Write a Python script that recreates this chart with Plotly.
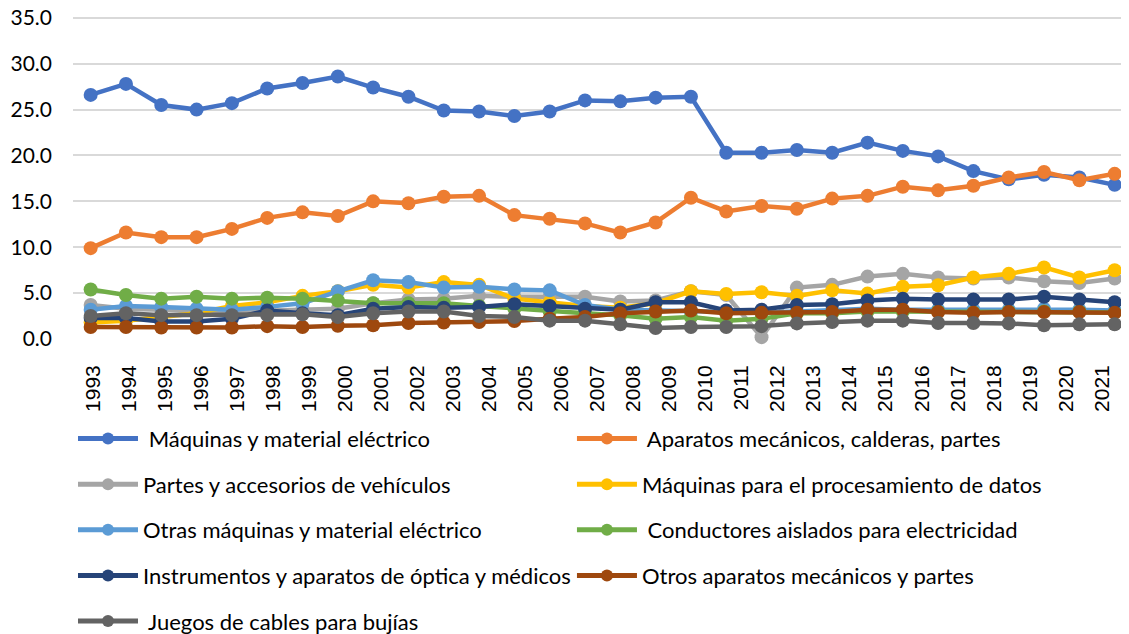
import numpy as np
import plotly.graph_objects as go

# ---- data ----
years = list(range(1993, 2023))            # 30 plotted points
year_labels = [str(y) for y in range(1993, 2022)]   # 29 axis labels shown

maquinas_material = [26.6, 27.8, 25.5, 25.0, 25.7, 27.3, 27.9, 28.6, 27.4, 26.4,
                     24.9, 24.8, 24.3, 24.8, 26.0, 25.9, 26.3, 26.4, 20.3, 20.3,
                     20.6, 20.3, 21.4, 20.5, 19.9, 18.3, 17.4, 17.9, 17.6, 16.8]
aparatos_mecanicos = [9.9, 11.6, 11.1, 11.1, 12.0, 13.2, 13.8, 13.4, 15.0, 14.8,
                      15.5, 15.6, 13.5, 13.1, 12.6, 11.6, 12.7, 15.4, 13.9, 14.5,
                      14.2, 15.3, 15.6, 16.6, 16.2, 16.7, 17.6, 18.2, 17.3, 18.0]
partes_vehiculos = [3.7, 3.3, 3.2, 3.0, 3.0, 3.1, 3.3, 3.3, 3.9, 4.3,
                    4.4, 4.7, 4.6, 4.6, 4.6, 4.1, 4.2, 5.2, 4.8, 0.2,
                    5.6, 5.9, 6.8, 7.1, 6.7, 6.6, 6.7, 6.3, 6.1, 6.6]
procesamiento_datos = [1.8, 2.0, 2.4, 2.8, 3.6, 4.0, 4.7, 5.2, 5.9, 5.6,
                       6.2, 5.9, 4.4, 4.0, 3.6, 3.4, 3.9, 5.2, 4.9, 5.1,
                       4.7, 5.3, 4.95, 5.7, 5.85, 6.7, 7.1, 7.8, 6.7, 7.5]
otras_maquinas = [3.2, 3.6, 3.5, 3.3, 3.2, 3.5, 3.9, 5.2, 6.4, 6.2,
                  5.6, 5.7, 5.4, 5.3, 3.7, 3.2, 3.1, 3.0, 2.9, 2.9,
                  3.0, 3.1, 3.3, 3.2, 3.2, 3.2, 3.2, 3.3, 3.2, 3.1]
conductores = [5.4, 4.8, 4.4, 4.6, 4.4, 4.5, 4.4, 4.2, 3.9, 3.9,
               3.9, 3.6, 3.3, 3.0, 2.8, 2.6, 2.2, 2.4, 2.0, 2.2,
               2.8, 2.8, 3.0, 3.0, 3.0, 2.9, 3.0, 3.0, 3.0, 2.9]
instrumentos = [2.3, 2.3, 1.9, 1.9, 2.2, 3.1, 2.8, 2.6, 3.3, 3.5,
                3.4, 3.5, 3.8, 3.6, 3.3, 3.2, 4.0, 4.0, 3.1, 3.2,
                3.7, 3.8, 4.2, 4.4, 4.3, 4.3, 4.3, 4.6, 4.3, 4.0]
otros_aparatos = [1.3, 1.3, 1.25, 1.25, 1.25, 1.4, 1.3, 1.45, 1.5, 1.75,
                  1.8, 1.85, 1.95, 2.2, 2.4, 2.8, 3.0, 3.1, 2.8, 2.85,
                  2.85, 2.95, 3.2, 3.2, 2.95, 2.85, 2.95, 2.95, 2.95, 2.85]
juegos_cables = [2.5, 2.8, 2.6, 2.6, 2.6, 2.6, 2.7, 2.4, 2.8, 3.0,
                 3.0, 2.5, 2.4, 2.0, 2.0, 1.6, 1.2, 1.3, 1.3, 1.4,
                 1.7, 1.85, 2.0, 2.0, 1.75, 1.75, 1.7, 1.5, 1.6, 1.6]

NB = "\u00a0"
series = [
    (NB + "Máquinas y material eléctrico", maquinas_material, "#4472C4", "legend"),
    (NB + "Aparatos mecánicos, calderas, partes", aparatos_mecanicos, "#ED7D31", "legend2"),
    ("Partes y accesorios de vehículos", partes_vehiculos, "#A5A5A5", "legend"),
    ("Máquinas para el procesamiento de datos", procesamiento_datos, "#FFC000", "legend2"),
    ("Otras máquinas y material eléctrico", otras_maquinas, "#5B9BD5", "legend"),
    (NB + "Conductores aislados para electricidad", conductores, "#70AD47", "legend2"),
    ("Instrumentos y aparatos de óptica y médicos", instrumentos, "#264478", "legend"),
    ("Otros aparatos mecánicos y partes", otros_aparatos, "#9E480E", "legend2"),
    (NB + "Juegos de cables para bujías", juegos_cables, "#636363", "legend"),
]

fig = go.Figure()
for i, (name, vals, color, leg) in enumerate(series):
    fig.add_trace(go.Scatter(
        x=years, y=vals, name=name, mode="lines+markers",
        line=dict(color=color, width=4.5),
        marker=dict(color=color, size=14),
        legend=leg, legendgroup=f"g{i}",
        cliponaxis=False,
    ))

FONT = "Lato"
leg_common = dict(yanchor="top", xanchor="left",
                  font=dict(family=FONT, size=22, color="#000000"),
                  tracegroupgap=14, itemsizing="constant", itemwidth=60,
                  bgcolor="rgba(0,0,0,0)")
# The page shows the figure with an 8px body margin, so the figure is
# sized to fit the 1129x634 window and margins compensate for the offset.
fig.update_layout(
    width=1121, height=626,
    margin=dict(l=65, r=0, t=8, b=295, autoexpand=False),
    paper_bgcolor="white", plot_bgcolor="white",
    showlegend=True,
    legend=dict(x=0.0, y=-0.244, **leg_common),
    legend2=dict(x=0.4725, y=-0.244, **leg_common),
)
fig.update_xaxes(
    range=[1992.5, 1992.5 + 1056 / 35.31],
    tickmode="array",
    tickvals=np.linspace(1993.06, 2021.64, len(year_labels)),
    ticktext=year_labels,
    tickangle=-90,
    tickfont=dict(family="Liberation Sans", size=21, color="#000000"),
    showgrid=False, zeroline=False, showline=False, automargin=False,
    ticks="", ticklabelstandoff=21, ticklabeloverflow="allow",
)
fig.update_yaxes(
    range=[0, 35.2], tickmode="array",
    tickvals=[0, 5, 10, 15, 20, 25, 30, 35],
    tickformat=".1f",
    tickfont=dict(family=FONT, size=21, color="#000000"),
    showgrid=True, gridcolor="#D9D9D9", gridwidth=1.5, automargin=False,
    zeroline=False, showline=False, ticks="", ticklabelstandoff=20,
    ticklabeloverflow="allow",
)

fig.write_html("out.html")
